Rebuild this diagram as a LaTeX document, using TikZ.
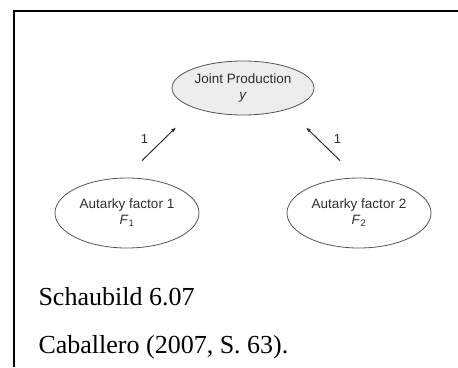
\documentclass[tikz,border=0pt]{standalone}
\usepackage{fontspec}
\setmainfont{Liberation Serif}
\setsansfont{Liberation Sans}
\usetikzlibrary{shapes.geometric,arrows.meta}
\definecolor{inkgray}{HTML}{2E2E2E}
\definecolor{linegray}{HTML}{555555}
\definecolor{ovalfill}{HTML}{EDEDED}

\begin{document}
\begin{tikzpicture}[x=1pt,y=-1pt,
  oval/.style={ellipse,draw=linegray,line width=.8pt,minimum width=144pt,
    minimum height=70pt,inner sep=0pt,align=center,text=inkgray,
    font=\sffamily\fontsize{13.5}{16}\selectfont},
  arr/.style={draw=inkgray,line width=1pt,-{Latex[length=5pt,width=4pt]}},
  lbl/.style={text=inkgray,font=\sffamily\fontsize{13}{15}\selectfont},
  caption/.style={anchor=base west,font=\fontsize{26}{30}\selectfont}]
  \useasboundingbox (0,0) rectangle (458,367);
  % frame
  \draw[line width=2pt] (14,367) -- (14,11) -- (458,11);
  % ellipses
  \node[oval,fill=ovalfill,minimum width=142pt,minimum height=54pt] (Y) at (243,88)
    {Joint Production\\\textit{y}};
  \node[oval] (F1) at (127,213) {Autarky factor 1\\\textit{F}\textsubscript{1}};
  \node[oval] (F2) at (359,213) {Autarky factor 2\\\textit{F}\textsubscript{2}};
  % arrows
  \draw[arr] ([xshift=15pt,yshift=17pt]F1.north) -- ([xshift=-67pt,yshift=-12pt]Y.south)
    node[lbl,pos=.35,above left=2pt] (w1) {1};
  \draw[arr] ([xshift=-19pt,yshift=17pt]F2.north) -- ([xshift=63pt,yshift=-12pt]Y.south)
    node[lbl,pos=.35,above right=2pt] (w2) {1};
  % captions
  \node[caption] (fig) at (35,305) {Schaubild 6.07};
  \node[caption] (src) at (35,353) {Caballero (2007, S. 63).};
\end{tikzpicture}
\end{document}
